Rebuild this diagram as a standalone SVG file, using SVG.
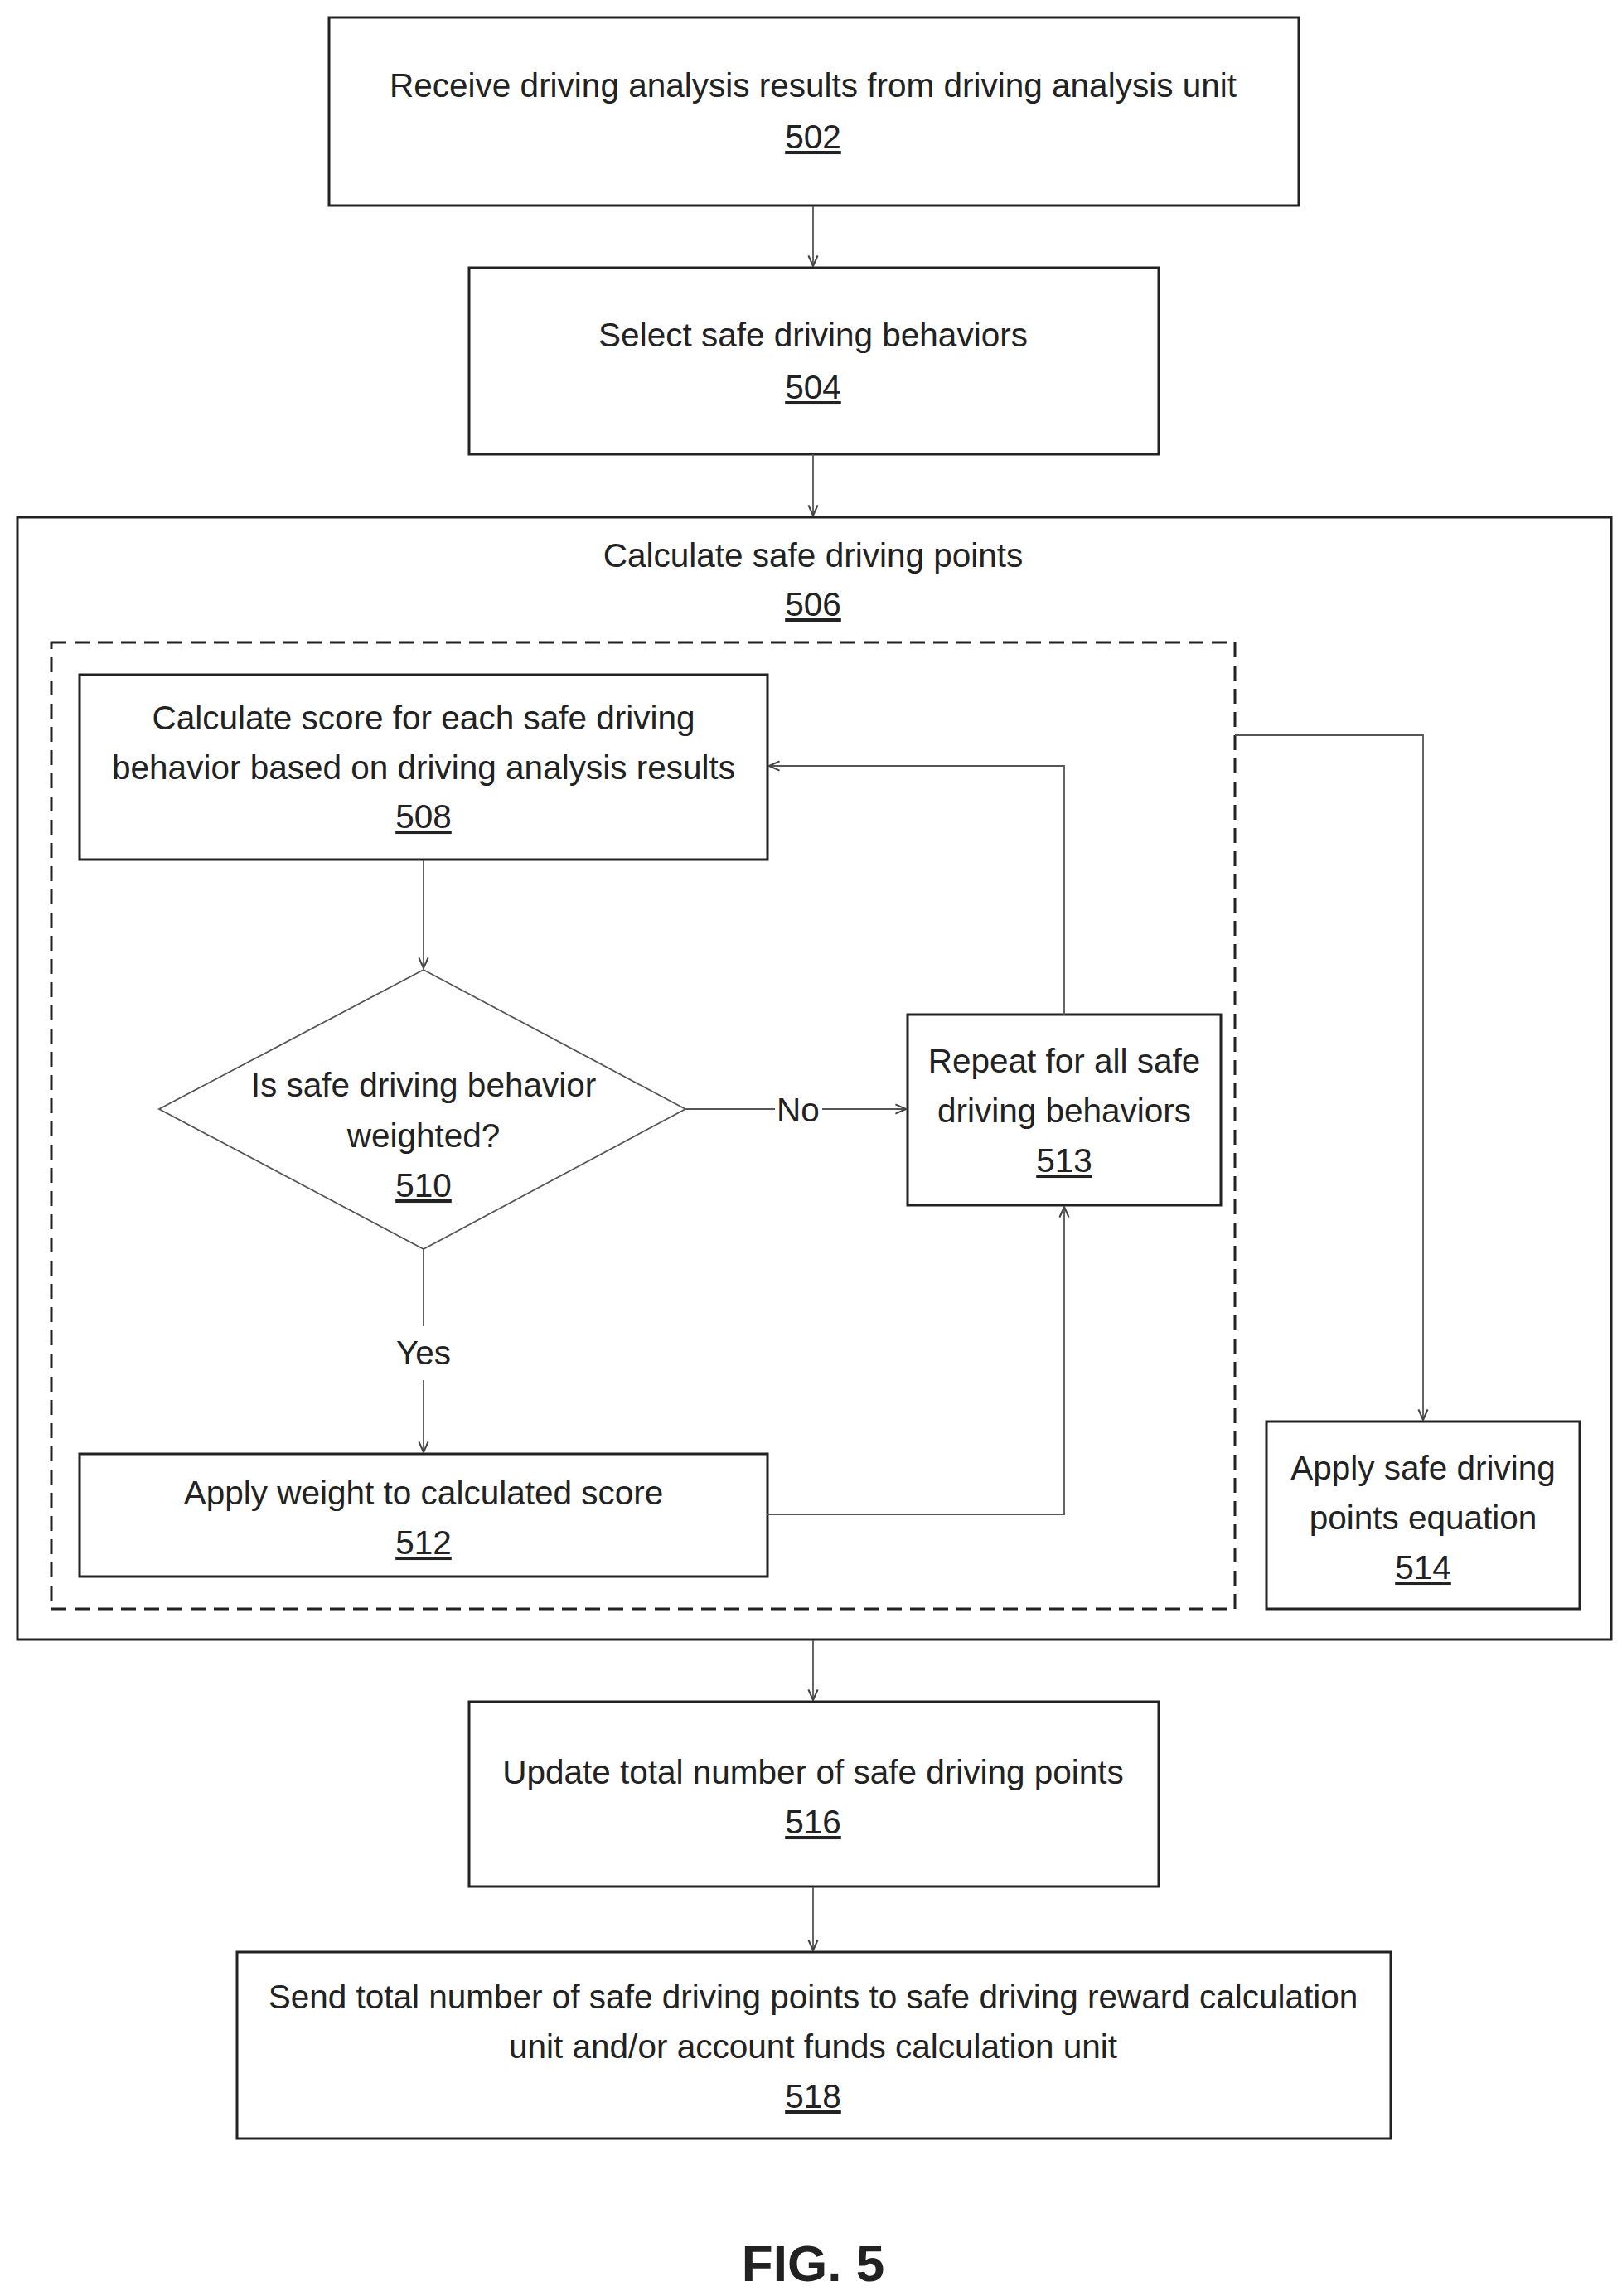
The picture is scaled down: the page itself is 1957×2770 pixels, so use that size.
<svg xmlns="http://www.w3.org/2000/svg" width="1957" height="2770" viewBox="0 0 1957 2770">
<style>
.b{fill:#fff;stroke:#222;stroke-width:3}
.t{font-family:"Liberation Sans Narrow","Liberation Sans",Arial,sans-serif;font-size:40.5px;fill:#222;text-anchor:middle}
.u{text-decoration:underline}
.c{fill:none;stroke:#555;stroke-width:1.8}
</style>
<defs><marker id="a" viewBox="0 0 10 10" refX="9" refY="5" markerWidth="14" markerHeight="14" markerUnits="userSpaceOnUse" orient="auto"><path d="M0,1 L9,5 L0,9" fill="none" stroke="#444" stroke-width="1.5"/></marker></defs>
<rect width="1957" height="2770" fill="#fff"/>
<g id="n502"><rect class="b" x="397" y="21" width="1170" height="227"/><text class="t" x="981" y="117">Receive driving analysis results from driving analysis unit</text><text class="t u" x="981" y="179">502</text></g>
<g id="n504"><rect class="b" x="566" y="323" width="832" height="225"/><text class="t" x="981" y="418">Select safe driving behaviors</text><text class="t u" x="981" y="481">504</text></g>
<g id="n506"><rect class="b" x="21" y="624" width="1923" height="1354"/><text class="t" x="981" y="684">Calculate safe driving points</text><text class="t u" x="981" y="743">506</text></g>
<rect x="62" y="775" width="1428" height="1166" fill="none" stroke="#222" stroke-width="3" stroke-dasharray="18,10"/>
<g id="n508"><rect class="b" x="96" y="814" width="830" height="223"/><text class="t" x="511" y="880">Calculate score for each safe driving</text><text class="t" x="511" y="940">behavior based on driving analysis results</text><text class="t u" x="511" y="999">508</text></g>
<g id="n510"><polygon points="511,1170 827,1338 511,1507 192,1338" fill="#fff" stroke="#555" stroke-width="1.8"/><text class="t" x="511" y="1323">Is safe driving behavior</text><text class="t" x="511" y="1384">weighted?</text><text class="t u" x="511" y="1444">510</text></g>
<g id="n513"><rect class="b" x="1095" y="1224" width="378" height="230"/><text class="t" x="1284" y="1294">Repeat for all safe</text><text class="t" x="1284" y="1354">driving behaviors</text><text class="t u" x="1284" y="1414">513</text></g>
<g id="n512"><rect class="b" x="96" y="1754" width="830" height="148"/><text class="t" x="511" y="1815">Apply weight to calculated score</text><text class="t u" x="511" y="1875">512</text></g>
<g id="n514"><rect class="b" x="1528" y="1715" width="378" height="226"/><text class="t" x="1717" y="1785">Apply safe driving</text><text class="t" x="1717" y="1845">points equation</text><text class="t u" x="1717" y="1905">514</text></g>
<g id="n516"><rect class="b" x="566" y="2053" width="832" height="223"/><text class="t" x="981" y="2152">Update total number of safe driving points</text><text class="t u" x="981" y="2212">516</text></g>
<g id="n518"><rect class="b" x="286" y="2355" width="1392" height="225"/><text class="t" x="981" y="2423">Send total number of safe driving points to safe driving reward calculation</text><text class="t" x="981" y="2483">unit and/or account funds calculation unit</text><text class="t u" x="981" y="2543">518</text></g>
<g id="connectors">
<path class="c" d="M981,248 V321" marker-end="url(#a)"/>
<path class="c" d="M981,548 V622" marker-end="url(#a)"/>
<path class="c" d="M981,1978 V2051" marker-end="url(#a)"/>
<path class="c" d="M981,2276 V2353" marker-end="url(#a)"/>
<path class="c" d="M511,1037 V1168" marker-end="url(#a)"/>
<path class="c" d="M511,1507 V1600 M511,1665 V1752" marker-end="url(#a)"/>
<path class="c" d="M827,1338 H935 M992,1338 H1093" marker-end="url(#a)"/>
<path class="c" d="M1284,1224 V924 H928" marker-end="url(#a)"/>
<path class="c" d="M926,1827 H1284 V1456" marker-end="url(#a)"/>
<path class="c" d="M1490,887 H1717 V1713" marker-end="url(#a)"/>
<text class="t" x="511" y="1646">Yes</text>
<text class="t" x="963" y="1353">No</text>
</g>
<text x="981" y="2752" font-family="Liberation Sans Narrow,Liberation Sans,sans-serif" font-weight="bold" font-size="62" text-anchor="middle" fill="#222">FIG. 5</text>
</svg>
